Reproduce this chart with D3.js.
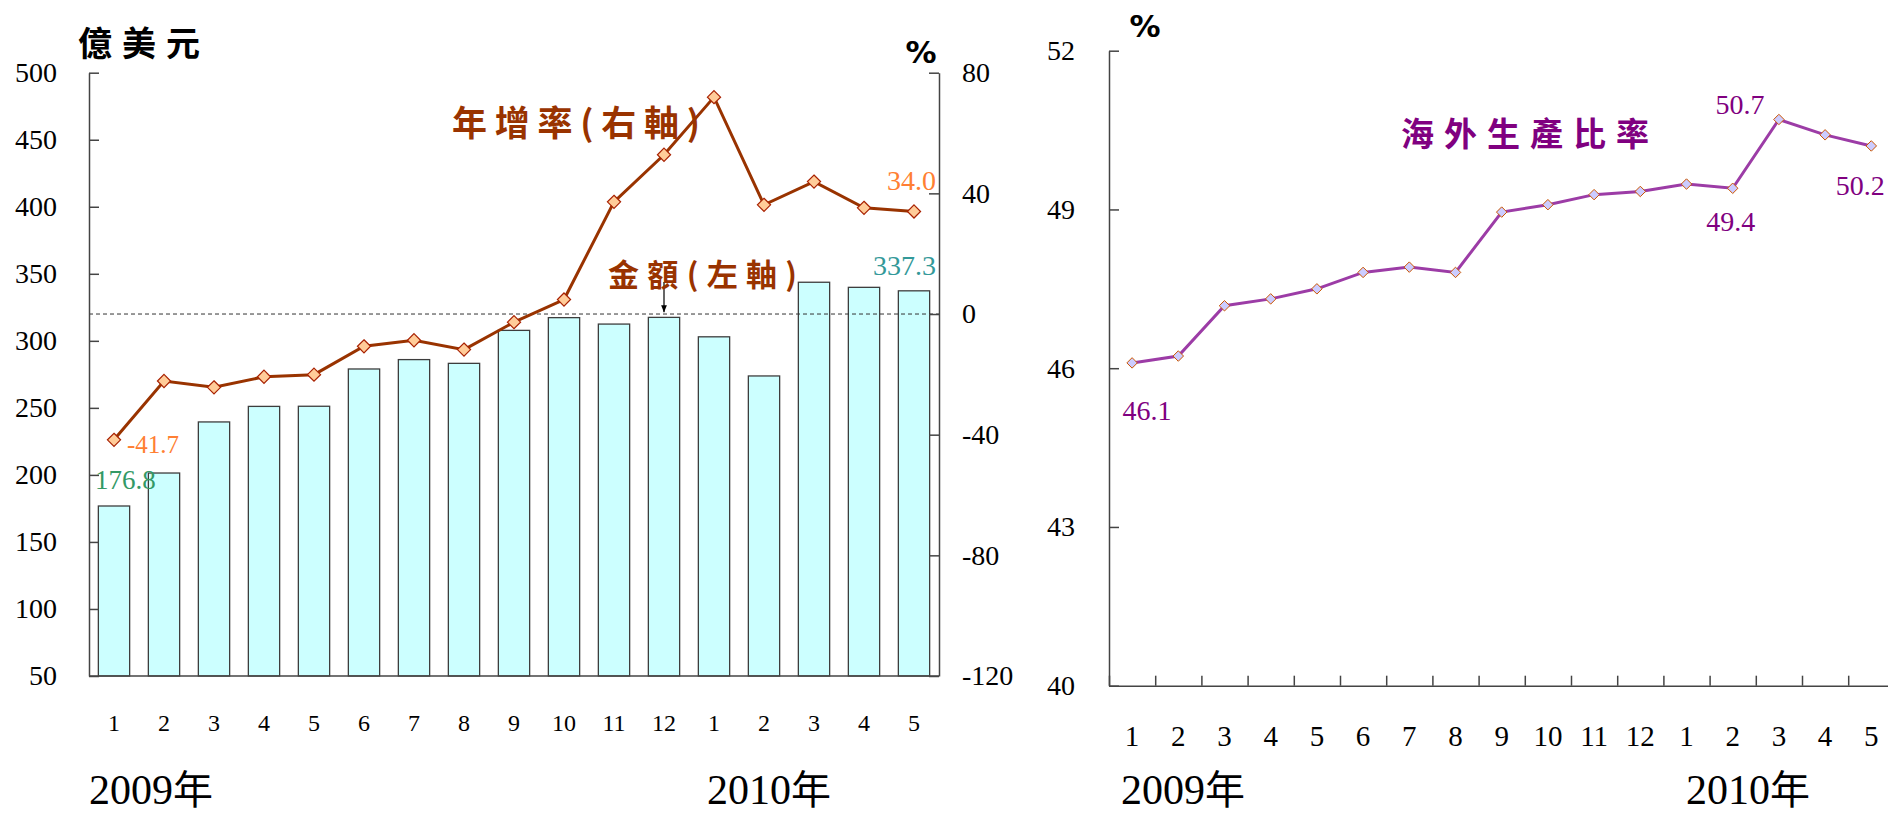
<!DOCTYPE html>
<html>
<head>
<meta charset="utf-8">
<script src="https://cdn.jsdelivr.net/npm/d3@7"></script>
<style>
  body { margin: 0; background: #fff; }
  svg { display: block; }
</style>
</head>
<body>
<div id="chart"></div>
<script>
// month labels, Jan 2009 .. May 2010
const monthLabels = ["1","2","3","4","5","6","7","8","9","10","11","12","1","2","3","4","5"];
// 金額 (億美元, left axis)
const amount = [176.8, 201.4, 239.5, 251.1, 251.2, 279.0, 286.0, 283.2, 307.8, 317.3, 312.5, 317.5, 303.0, 273.8, 343.7, 339.9, 337.3];
// 年增率 (%, right axis)
const growth = [-41.7, -22.2, -24.3, -20.8, -20.1, -10.7, -8.7, -11.8, -2.7, 4.8, 37.2, 52.8, 71.9, 36.2, 43.9, 35.2, 34.0];
// 海外生產比率 (%)
const share = [46.1, 46.23, 47.18, 47.31, 47.5, 47.81, 47.91, 47.81, 48.95, 49.09, 49.28, 49.34, 49.48, 49.4, 50.7, 50.41, 50.2];

const leftTicks = [50, 100, 150, 200, 250, 300, 350, 400, 450, 500];
const rightTicks = [-120, -80, -40, 0, 40, 80];
const shareTicks = [40, 43, 46, 49, 52];
const years = ["2009", "2010"];

const serif = "'Liberation Serif', 'Times New Roman', serif";
const cjk = "'Noto Sans CJK TC', sans-serif";

const svg = d3.select("#chart").append("svg")
    .attr("width", 1888)
    .attr("height", 815);

const idx = d3.range(monthLabels.length);
const plain = d => String(d); // keep ascii hyphen for negatives

function styleTicks(g, size) {
    g.selectAll("text")
        .style("font-family", serif)
        .style("font-size", size + "px")
        .attr("fill", "#000");
}

// year label: serif digits + CJK 年
function yearLabel(x, y, year) {
    const t = svg.append("text").attr("x", x).attr("y", y).attr("fill", "#000");
    t.append("tspan").text(year).style("font-family", serif).style("font-size", "42px");
    t.append("tspan").text("年").style("font-family", cjk).style("font-size", "40px");
}

// ---------- left chart ----------
const x1 = d3.scaleBand().domain(idx).range([89, 939]).paddingInner(0.374).paddingOuter(0.187);
const yL = d3.scaleLinear().domain([50, 500]).range([676, 72.7]);
const yR = d3.scaleLinear().domain([-120, 80]).range([676, 72.7]);
const cx1 = i => x1(i) + x1.bandwidth() / 2;

// bars
svg.append("g").selectAll("rect")
    .data(amount)
    .enter()
    .append("rect")
    .attr("x", (d, i) => x1(i))
    .attr("y", d => yL(d))
    .attr("width", x1.bandwidth())
    .attr("height", d => yL(50) - yL(d))
    .attr("fill", "#ccffff")
    .attr("stroke", "#3d3d3d")
    .attr("stroke-width", 1.3);

// zero line of right axis
svg.append("line")
    .attr("x1", 89).attr("x2", 939)
    .attr("y1", yR(0)).attr("y2", yR(0))
    .attr("stroke", "#333")
    .attr("stroke-dasharray", "4,3");

// axes
const gL = svg.append("g").attr("transform", "translate(89,0)")
    .call(d3.axisLeft(yL).tickValues(leftTicks).tickFormat(plain).tickSize(-10).tickSizeOuter(0).tickPadding(32));
const gR = svg.append("g").attr("transform", "translate(939,0)")
    .call(d3.axisRight(yR).tickValues(rightTicks).tickFormat(plain).tickSize(-10).tickSizeOuter(0).tickPadding(23));
const gB = svg.append("g").attr("transform", "translate(0,676)")
    .call(d3.axisBottom(x1).tickSize(0).tickSizeOuter(0).tickFormat(i => monthLabels[i]));

[gL, gR].forEach(g => {
    styleTicks(g, 28);
    g.selectAll("line, path").attr("stroke", "#444").attr("stroke-width", 1.5);
});
gB.select(".domain").attr("stroke", "#444").attr("stroke-width", 1.5).attr("d", "M89,0H939");
styleTicks(gB, 24);
gB.selectAll("text").attr("y", 54.7).attr("dy", 0);

// growth line
const line1 = d3.line().x((d, i) => cx1(i)).y(d => yR(d));
svg.append("path")
    .datum(growth)
    .attr("d", line1)
    .attr("fill", "none")
    .attr("stroke", "#993300")
    .attr("stroke-width", 3);

const diamond = d3.symbol().type(d3.symbolDiamond2);
svg.append("g").selectAll("path")
    .data(growth)
    .enter()
    .append("path")
    .attr("transform", (d, i) => `translate(${cx1(i)},${yR(d)})`)
    .attr("d", diamond.size(110))
    .attr("fill", "#ffcc99")
    .attr("stroke", "#a82000")
    .attr("stroke-width", 1.2);

// arrow from 金額 label to bar 12
svg.append("defs").append("marker")
    .attr("id", "arr").attr("viewBox", "0 0 10 10")
    .attr("refX", 10).attr("refY", 5)
    .attr("markerWidth", 6).attr("markerHeight", 6)
    .attr("orient", "auto")
    .append("path").attr("d", "M0,1L10,5L0,9Z").attr("fill", "#000");
svg.append("line")
    .attr("x1", cx1(11)).attr("x2", cx1(11))
    .attr("y1", 282).attr("y2", yL(amount[11]) - 5)
    .attr("stroke", "#000").attr("stroke-width", 1.2)
    .attr("marker-end", "url(#arr)");

// data labels
svg.append("text").text(growth[0].toFixed(1))
    .attr("x", cx1(0) + 13).attr("y", yR(growth[0]) + 13)
    .style("font-family", serif).style("font-size", "25px").attr("fill", "#ff7f33");
svg.append("text").text(amount[0].toFixed(1))
    .attr("x", cx1(0) - 19).attr("y", yL(amount[0]) - 17)
    .style("font-family", serif).style("font-size", "27px").attr("fill", "#339966");
svg.append("text").text(growth[16].toFixed(1))
    .attr("x", 936).attr("y", yR(growth[16]) - 21).attr("text-anchor", "end")
    .style("font-family", serif).style("font-size", "28px").attr("fill", "#ff7f33");
svg.append("text").text(amount[16].toFixed(1))
    .attr("x", 936).attr("y", yL(amount[16]) - 16).attr("text-anchor", "end")
    .style("font-family", serif).style("font-size", "28px").attr("fill", "#339999");

// titles
svg.append("text").text("億美元")
    .attr("x", 78).attr("y", 56).attr("textLength", 122)
    .style("font-family", cjk).attr("font-weight", "bold").style("font-size", "34px").attr("fill", "#000");
svg.append("text").text("%")
    .attr("x", 921).attr("y", 63).attr("text-anchor", "middle")
    .style("font-family", "'DejaVu Sans', sans-serif").attr("font-weight", "bold").style("font-size", "31px").attr("fill", "#000");
svg.append("text").text("年增率(右軸)")
    .attr("x", 452).attr("y", 136).attr("textLength", 248)
    .style("font-family", cjk).attr("font-weight", "bold").style("font-size", "35px").attr("fill", "#993300");
svg.append("text").text("金額(左軸)")
    .attr("x", 608).attr("y", 286).attr("textLength", 189)
    .style("font-family", cjk).attr("font-weight", "bold").style("font-size", "31px").attr("fill", "#993300");

yearLabel(89, 804, years[0]);
yearLabel(707, 804, years[1]);

// ---------- right chart ----------
const step2 = 46.2;
const x2 = d3.scaleBand().domain(idx).range([1109, 1109 + step2 * idx.length]);
const x2edge = d3.scaleLinear().domain([0, idx.length]).range([1109, 1109 + step2 * idx.length]);
const yP = d3.scaleLinear().domain([40, 52]).range([685.7, 50.7]);
const cx2 = i => x2(i) + x2.bandwidth() / 2;

const gP = svg.append("g").attr("transform", "translate(1109,0)")
    .call(d3.axisLeft(yP).tickValues(shareTicks).tickFormat(plain).tickSize(-10).tickSizeOuter(0).tickPadding(34));
styleTicks(gP, 28);
gP.selectAll("line, path").attr("stroke", "#444").attr("stroke-width", 1.5);

const gT = svg.append("g").attr("transform", "translate(0,685.7)")
    .call(d3.axisBottom(x2edge).tickValues(d3.range(0, idx.length + 1)).tickSize(-10).tickSizeOuter(0).tickFormat(""));
gT.selectAll("line, path").attr("stroke", "#444").attr("stroke-width", 1.5);

const gM = svg.append("g").attr("transform", "translate(0,685.7)")
    .call(d3.axisBottom(x2).tickSize(0).tickFormat(i => monthLabels[i]));
gM.select(".domain").remove();
styleTicks(gM, 29);
gM.selectAll("text").attr("y", 60).attr("dy", 0);

const line2 = d3.line().x((d, i) => cx2(i)).y(d => yP(d));
svg.append("path")
    .datum(share)
    .attr("d", line2)
    .attr("fill", "none")
    .attr("stroke", "#9c3ca6")
    .attr("stroke-width", 3);

svg.append("g").selectAll("path")
    .data(share)
    .enter()
    .append("path")
    .attr("transform", (d, i) => `translate(${cx2(i)},${yP(d)})`)
    .attr("d", diamond.size(70))
    .attr("fill", "#ccccff")
    .attr("stroke", "#cc5500")
    .attr("stroke-width", 1);

// share labels
const shareLabels = [
    { i: 0, dx: 15, dy: 57 },
    { i: 13, dx: -2, dy: 43 },
    { i: 14, dx: -39, dy: -5 },
    { i: 16, dx: -11, dy: 49 }
];
svg.append("g").selectAll("text")
    .data(shareLabels)
    .enter()
    .append("text")
    .text(d => share[d.i].toFixed(1))
    .attr("x", d => cx2(d.i) + d.dx)
    .attr("y", d => yP(share[d.i]) + d.dy)
    .attr("text-anchor", "middle")
    .style("font-family", serif).style("font-size", "28px").attr("fill", "#800080");

svg.append("text").text("%")
    .attr("x", 1145).attr("y", 37).attr("text-anchor", "middle")
    .style("font-family", "'DejaVu Sans', sans-serif").attr("font-weight", "bold").style("font-size", "31px").attr("fill", "#000");
svg.append("text").text("海外生產比率")
    .attr("x", 1401).attr("y", 146).attr("textLength", 248)
    .style("font-family", cjk).attr("font-weight", "bold").style("font-size", "33px").attr("fill", "#800080");

yearLabel(1121, 804, years[0]);
yearLabel(1686, 804, years[1]);
</script>
</body>
</html>
